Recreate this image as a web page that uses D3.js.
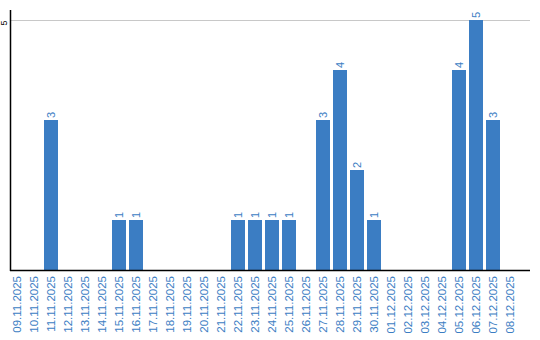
<!DOCTYPE html>
<html>
<head>
<meta charset="utf-8">
<script src="https://cdn.jsdelivr.net/npm/d3@7"></script>
<style>
  body { margin: 0; background: #fff; }
  svg { display: block; font-family: "Liberation Sans", Arial, sans-serif; }
</style>
</head>
<body>
<div id="chart"></div>
<script>
const dates = ['09.11.2025', '10.11.2025', '11.11.2025', '12.11.2025', '13.11.2025', '14.11.2025',
  '15.11.2025', '16.11.2025', '17.11.2025', '18.11.2025', '19.11.2025', '20.11.2025', '21.11.2025',
  '22.11.2025', '23.11.2025', '24.11.2025', '25.11.2025', '26.11.2025', '27.11.2025', '28.11.2025',
  '29.11.2025', '30.11.2025', '01.12.2025', '02.12.2025', '03.12.2025', '04.12.2025', '05.12.2025',
  '06.12.2025', '07.12.2025', '08.12.2025'];
const counts = [0, 0, 3, 0, 0, 0, 1, 1, 0, 0, 0, 0, 0, 1, 1, 1, 1, 0, 3, 4, 2, 1, 0, 0, 0, 0, 4, 5, 3, 0];
const yTicks = [5];

const width = 540, height = 340;
const plotLeft = 10, plotRight = 530, plotTop = 20, plotBottom = 270;
const barColor = '#3b7dc3';

const svg = d3.select('#chart')
  .append('svg')
  .attr('width', width)
  .attr('height', height);

// band: step 17px, bar 14px
const x = d3.scaleBand()
  .domain(dates)
  .range([plotLeft, 517])
  .paddingInner(3 / 17)
  .paddingOuter(0);

const y = d3.scaleLinear()
  .domain([0, 5])
  .range([plotBottom, plotTop]);

const rows = dates.map((d, i) => ({date: d, value: counts[i]})).filter(d => d.value > 0);

// grid line
svg.selectAll('line.grid')
  .data(yTicks)
  .join('line')
  .attr('class', 'grid')
  .attr('x1', plotLeft + 1)
  .attr('x2', plotRight)
  .attr('y1', d => y(d) + 0.5)
  .attr('y2', d => y(d) + 0.5)
  .attr('stroke', '#c8c8c8');

// y tick labels (rotated)
svg.selectAll('text.ytick')
  .data(yTicks)
  .join('text')
  .attr('class', 'ytick')
  .attr('transform', d => `translate(7,${y(d) + 3}) rotate(-90)`)
  .attr('text-anchor', 'middle')
  .attr('font-size', 9)
  .attr('fill', '#000')
  .text(d => d);

// bars
svg.selectAll('rect.bar')
  .data(rows)
  .join('rect')
  .attr('class', 'bar')
  .attr('x', d => x(d.date))
  .attr('width', x.bandwidth())
  .attr('y', d => y(d.value))
  .attr('height', d => y(0) - y(d.value))
  .attr('fill', barColor);

// value labels
svg.selectAll('text.value')
  .data(rows)
  .join('text')
  .attr('class', 'value')
  .attr('transform', d => `translate(${x(d.date) + x.bandwidth() / 2 + 4},${y(d.value) - 2}) rotate(-90)`)
  .attr('text-anchor', 'start')
  .attr('font-size', 11)
  .attr('fill', barColor)
  .text(d => d.value);

// axes lines
svg.append('line')
  .attr('x1', plotLeft + 0.5).attr('x2', plotLeft + 0.5)
  .attr('y1', 10).attr('y2', plotBottom + 1)
  .attr('stroke', '#000').attr('stroke-width', 1.5);

svg.append('line')
  .attr('x1', plotLeft).attr('x2', plotRight)
  .attr('y1', plotBottom + 0.5).attr('y2', plotBottom + 0.5)
  .attr('stroke', '#000').attr('stroke-width', 1.5);

// x labels
svg.selectAll('text.xlabel')
  .data(dates)
  .join('text')
  .attr('class', 'xlabel')
  .attr('transform', d => `translate(${x(d) + x.bandwidth() / 2 + 4},${plotBottom + 6}) rotate(-90)`)
  .attr('text-anchor', 'end')
  .attr('font-size', 11.5)
  .attr('fill', barColor)
  .text(d => d);
</script>
</body>
</html>
